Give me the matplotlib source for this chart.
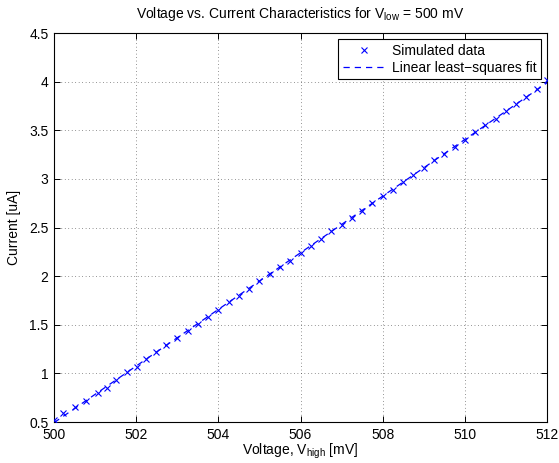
import numpy as np
import matplotlib
matplotlib.use('Agg')
import matplotlib.pyplot as plt

plt.rcParams['font.family'] = ['Liberation Sans', 'DejaVu Sans']
plt.rcParams['mathtext.fontset'] = 'custom'
plt.rcParams['mathtext.rm'] = 'Liberation Sans'
plt.rcParams['mathtext.default'] = 'regular'

# simulated data
v_high = [500.00, 500.22, 500.52, 500.78, 501.08, 501.28, 501.52, 501.78, 502.02,
          502.25, 502.48, 502.72, 503.00, 503.25, 503.50, 503.75, 504.00, 504.25,
          504.50, 504.75, 505.00, 505.25, 505.50, 505.75, 506.00, 506.25, 506.50,
          506.75, 507.00, 507.25, 507.50, 507.75, 508.00, 508.25, 508.50, 508.75,
          509.00, 509.25, 509.50, 509.75, 510.00, 510.25, 510.50, 510.75, 511.00,
          511.25, 511.50, 511.75, 512.00]
current = [0.52, 0.59, 0.65, 0.72, 0.80, 0.85, 0.93, 1.01, 1.07,
           1.15, 1.22, 1.29, 1.36, 1.44, 1.51, 1.58, 1.65, 1.73,
           1.80, 1.87, 1.95, 2.02, 2.09, 2.16, 2.24, 2.31, 2.38,
           2.46, 2.53, 2.60, 2.67, 2.75, 2.82, 2.89, 2.97, 3.04,
           3.11, 3.19, 3.26, 3.33, 3.40, 3.48, 3.55, 3.62, 3.70,
           3.77, 3.84, 3.92, 4.02]

p = np.polyfit(v_high, current, 1)
xfit = np.array([v_high[0], v_high[-1]])

fs = 10
fig = plt.figure(figsize=(5.59, 4.63), dpi=100)
ax = fig.add_axes([54/559, 1-422/463, 493/559, 389/463])

ax.plot(v_high, current, 'x', color='#0000ff', markersize=5, markeredgewidth=0.8,
        label='Simulated data', zorder=3)
ax.plot(xfit, np.polyval(p, xfit), color='#0000ff', linewidth=0.9, dashes=(5, 4),
        label='Linear least\u2212squares fit', zorder=3)

ax.set_xlim(500, 512)
ax.set_ylim(0.5, 4.5)
ax.set_xticks(np.arange(500, 513, 2))
ax.set_yticks(np.arange(0.5, 4.51, 0.5))
ax.set_yticklabels(['0.5', '1', '1.5', '2', '2.5', '3', '3.5', '4', '4.5'])
ax.tick_params(direction='in', length=4, width=0.7, labelsize=fs, top=True, right=True, pad=4)
ax.grid(True, color='#333333', linewidth=0.5, dashes=(1, 4))
for s in ax.spines.values():
    s.set_linewidth(0.8)

ax.set_xlabel('Voltage, V$_{high}$ [mV]', fontsize=fs, labelpad=0)
ax.set_ylabel('Current [uA]', fontsize=fs, labelpad=6)
ax.set_title('Voltage vs. Current Characteristics for V$_{low}$ = 500 mV', fontsize=fs, pad=11)

leg = ax.legend(loc='upper right', fontsize=fs, fancybox=False, framealpha=1,
                edgecolor='black', borderaxespad=0.43, handlelength=3.1,
                handletextpad=0.4, labelspacing=0.2, borderpad=0.35)
leg.get_frame().set_linewidth(0.8)

plt.savefig('out.png', dpi=100)
